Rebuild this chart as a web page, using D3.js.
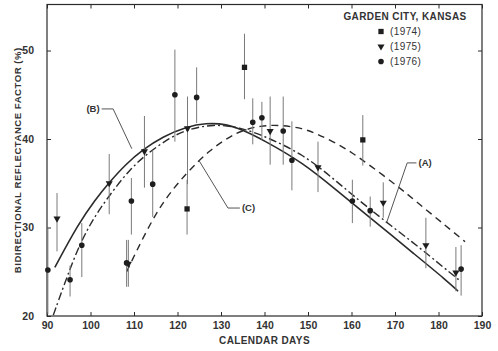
<!DOCTYPE html>
<html>
<head>
<meta charset="utf-8">
<script src="https://cdn.jsdelivr.net/npm/d3@7"></script>
<style>
  body { margin: 0; background: #fff; }
  svg { display: block; font-family: "Liberation Sans", Arial, sans-serif; }
</style>
</head>
<body>
<svg id="chart" width="498" height="351"></svg>
<script>
// measured points: [day, value, low, high]
const pts1974 = [
  [122.2, 32.1, 29.2, 35.4],
  [135.4, 48.1, 44.5, 51.9],
  [162.6, 39.9, 37.0, 42.7]
];
const pts1975 = [
  [92.3, 31.0, 27.3, 33.9],
  [104.3, 35.0, 31.5, 38.3],
  [108.7, 25.9, 23.3, 28.6],
  [112.4, 38.6, 34.5, 42.6],
  [122.3, 41.2, 34.9, 44.8],
  [141.3, 40.9, 37.1, 44.8],
  [152.3, 36.8, 34.0, 39.7],
  [167.3, 32.8, 31.1, 35.1],
  [177.1, 28.0, 25.4, 31.1],
  [184.0, 24.9, 22.8, 27.8]
];
const pts1976 = [
  [90.2, 25.2, 20.2, 30.0],
  [95.3, 24.1, 22.2, 25.7],
  [98.0, 28.0, 24.4, 30.5],
  [108.3, 26.0, 23.3, 28.6],
  [109.4, 33.0, 29.2, 35.6],
  [114.3, 34.9, 31.2, 38.7],
  [119.4, 45.0, 39.7, 50.1],
  [124.4, 44.7, 41.8, 48.1],
  [137.3, 41.9, 39.4, 44.6],
  [139.4, 42.4, 39.9, 44.2],
  [144.3, 40.9, 37.1, 44.8],
  [146.3, 37.6, 34.2, 42.0],
  [160.2, 33.0, 30.5, 35.4],
  [164.3, 31.9, 30.1, 33.5],
  [185.2, 25.3, 22.3, 28.0]
];

// fitted curves: [day, value]
const curveA = [
  [91.45, 20.1], [95.3, 25.4], [98.0, 28.6], [101.0, 31.3], [104.9, 34.0],
  [109.1, 36.6], [112.9, 38.3], [118.3, 40.2], [122.5, 41.1], [128.2, 41.7],
  [134.4, 41.3], [139.7, 40.4], [148.9, 38.3], [156.6, 35.2], [164.3, 32.0],
  [174.2, 28.3], [181.9, 25.2], [184.9, 24.0]
];
const curveB = [
  [91.8, 25.5], [97.2, 30.4], [101.0, 33.1], [104.5, 35.2], [108.0, 37.1],
  [112.0, 38.8], [116.7, 40.3], [122.1, 41.4], [126.5, 41.8], [131.3, 41.7],
  [135.1, 41.0], [139.7, 39.9], [148.9, 37.3], [156.6, 34.2], [164.3, 31.1],
  [174.2, 27.1], [181.9, 24.0], [184.5, 22.8]
];
const curveC = [
  [108.3, 25.0], [112.5, 29.3], [116.7, 33.0], [122.1, 36.2], [127.5, 38.8],
  [132.1, 40.3], [135.1, 41.0], [139.0, 41.5], [143.5, 41.6], [148.9, 41.2],
  [152.0, 40.6], [156.6, 39.5], [160.0, 38.5], [164.3, 37.0], [170.8, 34.6],
  [174.2, 33.2], [181.9, 30.1], [186.1, 28.4]
];

// leader labels: text, label anchor [day, value], elbow day, target [day, value]
const labels = [
  { text: '(A)', at: [175.4, 37.3], anchor: 'start', elbow: 172.8, target: [168.1, 30.6] },
  { text: '(B)', at: [102.1, 43.4], anchor: 'end', elbow: 105.2, target: [109.5, 38.9] },
  { text: '(C)', at: [134.8, 32.2], anchor: 'start', elbow: 131.6, target: [124.9, 37.6] }
];

const xTicks = [90, 100, 110, 120, 130, 140, 150, 160, 170, 180, 190];
const yTicks = [20, 30, 40, 50];
const legendYears = ['(1974)', '(1975)', '(1976)'];

const ink = '#2b2b2b';
const svg = d3.select('#chart');
const x = d3.scaleLinear().domain([90, 190]).range([47, 482]);
const y = d3.scaleLinear().domain([20, 55.2]).range([316, 4.5]);

// frame
svg.append('rect')
  .attr('x', x(90)).attr('y', y(55.2))
  .attr('width', x(190) - x(90)).attr('height', y(20) - y(55.2))
  .attr('fill', 'none').attr('stroke', ink).attr('stroke-width', 1.2);

const styleAxis = g => {
  g.select('.domain').remove();
  g.selectAll('.tick line').attr('stroke', ink).attr('stroke-width', 1);
  g.selectAll('.tick text').attr('fill', '#333').attr('font-size', 10.5).attr('font-weight', 'bold');
};

svg.append('g').attr('transform', `translate(0,${y(20)})`)
  .call(d3.axisBottom(x).tickValues(xTicks).tickSize(-4).tickPadding(6))
  .call(styleAxis);
svg.append('g').attr('transform', `translate(0,${y(55.2)})`)
  .call(d3.axisTop(x).tickValues(xTicks).tickSize(-4).tickFormat(''))
  .call(styleAxis);
svg.append('g').attr('transform', `translate(${x(90)},0)`)
  .call(d3.axisLeft(y).tickValues(yTicks).tickSize(-4).tickPadding(13))
  .call(styleAxis);
svg.append('g').attr('transform', `translate(${x(190)},0)`)
  .call(d3.axisRight(y).tickValues(yTicks).tickSize(-4).tickFormat(''))
  .call(styleAxis);

// axis titles
svg.append('text')
  .attr('x', (x(90) + x(190)) / 2).attr('y', 344)
  .attr('text-anchor', 'middle').attr('font-size', 10).attr('font-weight', 'bold')
  .attr('letter-spacing', 0.4).attr('fill', '#333')
  .text('CALENDAR DAYS');
svg.append('text')
  .attr('transform', `translate(21,${(y(20) + y(55.2)) / 2}) rotate(-90)`)
  .attr('text-anchor', 'middle').attr('font-size', 9.6).attr('font-weight', 'bold')
  .attr('letter-spacing', 0.5).attr('fill', '#333')
  .text('BIDIRECTIONAL REFLECTANCE FACTOR (%)');

// curves
const line = d3.line().x(d => x(d[0])).y(d => y(d[1])).curve(d3.curveBasis);
const curves = [
  { data: curveB, dash: null, w: 1.6 },
  { data: curveA, dash: '8,3,2,3', w: 1.4 },
  { data: curveC, dash: '7,5', w: 1.4 }
];
svg.selectAll('path.fit').data(curves).join('path')
  .attr('class', 'fit')
  .attr('d', d => line(d.data))
  .attr('fill', 'none').attr('stroke', ink)
  .attr('stroke-width', d => d.w)
  .attr('stroke-dasharray', d => d.dash);

// error bars
const allPts = [
  ...pts1974.map(d => ({ d, s: 'square' })),
  ...pts1975.map(d => ({ d, s: 'tri' })),
  ...pts1976.map(d => ({ d, s: 'circle' }))
];
svg.selectAll('line.err').data(allPts).join('line')
  .attr('class', 'err')
  .attr('x1', p => x(p.d[0])).attr('x2', p => x(p.d[0]))
  .attr('y1', p => y(p.d[2])).attr('y2', p => y(p.d[3]))
  .attr('stroke', '#7a7a7a').attr('stroke-width', 1);

const symbols = {
  square: d3.symbol(d3.symbolSquare, 28),
  tri: d3.symbol(d3.symbolTriangle, 22),
  circle: d3.symbol(d3.symbolCircle, 25)
};
const drawMark = (sel, s) => {
  sel.attr('d', symbols[s]()).attr('fill', '#1e1e1e');
  if (s === 'tri') sel.attr('transform', sel.attr('transform') + ' rotate(180)');
};
allPts.forEach(p => {
  const m = svg.append('path').attr('transform', `translate(${x(p.d[0])},${y(p.d[1])})`);
  drawMark(m, p.s);
});

// leader labels
labels.forEach(l => {
  const [lx, ly] = [x(l.at[0]), y(l.at[1])];
  const ex = x(l.elbow);
  svg.append('path')
    .attr('d', `M${lx + (l.anchor === 'start' ? -2 : 2)},${ly}H${ex}L${x(l.target[0])},${y(l.target[1])}`)
    .attr('fill', 'none').attr('stroke', '#555').attr('stroke-width', 1);
  svg.append('text')
    .attr('x', lx).attr('y', ly).attr('dy', '0.35em')
    .attr('text-anchor', l.anchor)
    .attr('font-size', 9.5).attr('font-weight', 'bold').attr('fill', '#333')
    .text(l.text);
});

// legend
const legend = svg.append('g');
legend.append('text')
  .attr('x', 405).attr('y', 16).attr('dy', '0.35em')
  .attr('text-anchor', 'middle').attr('font-size', 10).attr('font-weight', 'bold')
  .attr('letter-spacing', 0.4).attr('fill', '#333')
  .text('GARDEN CITY, KANSAS');
['square', 'tri', 'circle'].forEach((s, i) => {
  const yy = 31.5 + i * 15;
  const m = legend.append('path').attr('transform', `translate(381,${yy})`);
  drawMark(m, s);
  legend.append('text')
    .attr('x', 390).attr('y', yy).attr('dy', '0.35em')
    .attr('font-size', 10).attr('letter-spacing', 0.4).attr('fill', '#333')
    .text(legendYears[i]);
});
</script>
</body>
</html>
